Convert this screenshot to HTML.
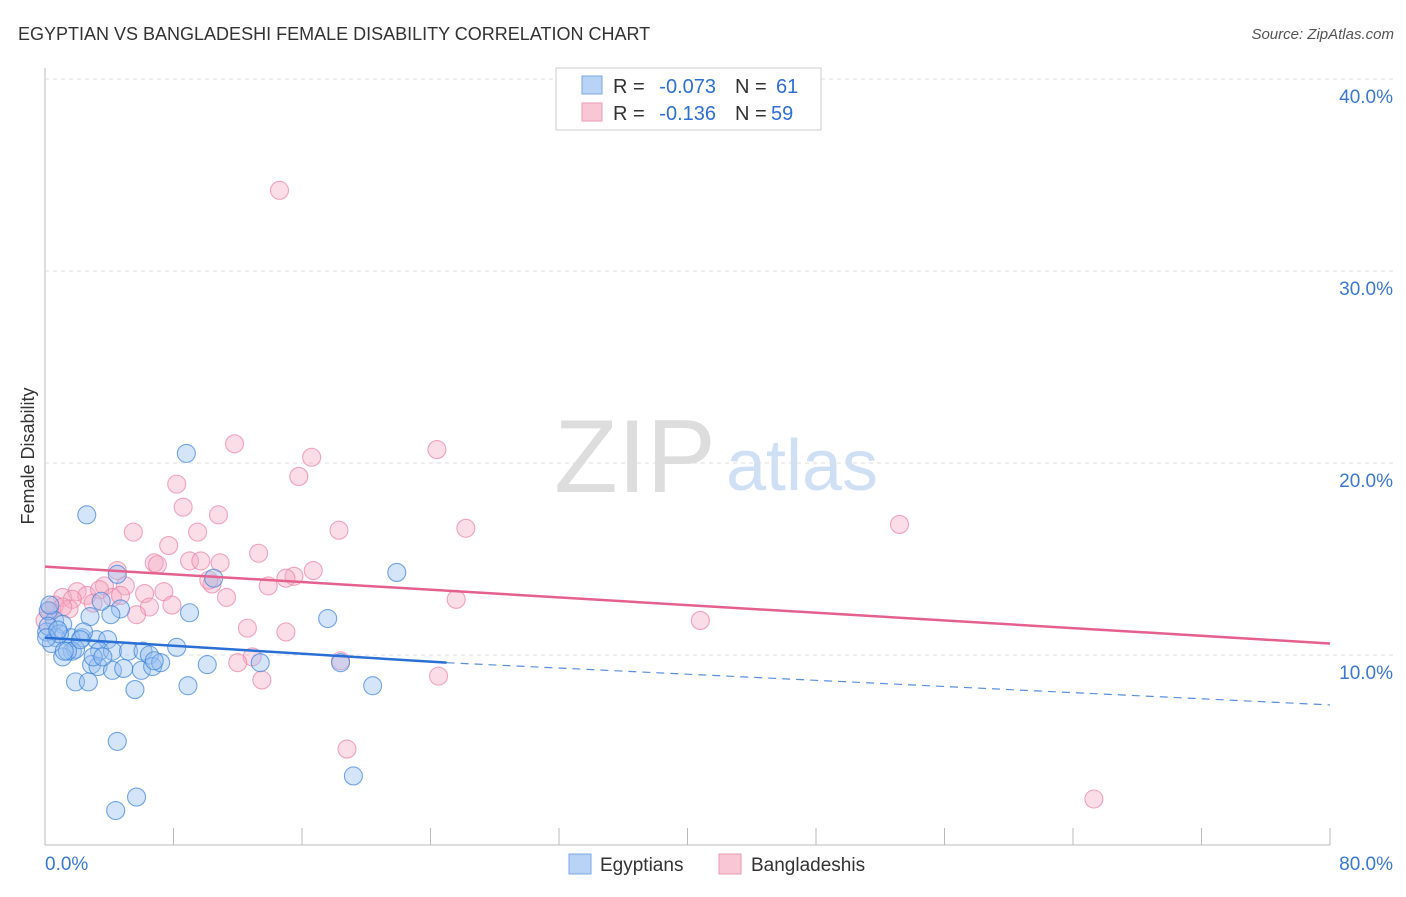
<!DOCTYPE html>
<html><head><meta charset="utf-8"><style>
body{margin:0;background:#fff;font-family:"Liberation Sans",sans-serif}
svg text{font-family:"Liberation Sans",sans-serif}
</style></head><body>
<svg id="c" width="1406" height="892">
<text x="18" y="40" font-size="18" fill="#333">EGYPTIAN VS BANGLADESHI FEMALE DISABILITY CORRELATION CHART</text>
<text x="1394" y="39" font-size="15" fill="#555" font-style="italic" text-anchor="end">Source: ZipAtlas.com</text>
<text x="34" y="456" font-size="18" fill="#333" text-anchor="middle" transform="rotate(-90 34 456)">Female Disability</text>
<g><text x="635" y="492" font-size="104" fill="#ddd" font-family="Liberation Serif" text-anchor="middle">ZIP</text><text x="802" y="490" font-size="72" fill="#cfe0f5" text-anchor="middle">atlas</text></g>
<g id="grid"></g><g id="pts"></g><g id="lines"></g>
<g>
<rect x="556" y="68" width="265" height="62" fill="#fff" stroke="#ccc"/>
<rect x="582" y="76" width="20" height="18" fill="#b8d3f5" stroke="#7aa9e6"/>
<rect x="582" y="103" width="20" height="18" fill="#f9c6d5" stroke="#eb9bb3"/>
<text x="613" y="93" font-size="20" fill="#333">R =</text>
<text x="716" y="93" font-size="20" fill="#2e6fd6" text-anchor="end">-0.073</text>
<text x="735" y="93" font-size="20" fill="#333">N =</text>
<text x="776" y="93" font-size="20" fill="#2e6fd6">61</text>
<text x="613" y="120" font-size="20" fill="#333">R =</text>
<text x="716" y="120" font-size="20" fill="#2e6fd6" text-anchor="end">-0.136</text>
<text x="735" y="120" font-size="20" fill="#333">N =</text>
<text x="771" y="120" font-size="20" fill="#2e6fd6">59</text>
</g>
<g>
<rect x="569" y="854" width="22" height="20" fill="#b8d3f5" stroke="#7aa9e6"/><text x="600" y="871" font-size="19" fill="#333">Egyptians</text>
<rect x="719" y="854" width="22" height="20" fill="#f9c6d5" stroke="#eb9bb3"/><text x="751" y="871" font-size="19" fill="#333">Bangladeshis</text>
</g>
</svg>
<script>
const xTicks=[0,8,16,24,32,40,48,56,64,72,80];
const yTicks=[10,20,30,40];
const blueX=[8.8,2.6,21.9,4.5,10.5,17.6,9.0,4.7,4.1,3.5,2.8,0.6,1.1,0.1,0.7,1.6,2.3,3.2,3.9,0.4,1.7,1.9,3.4,4.2,5.2,6.1,6.5,8.2,1.1,1.4,2.9,3.3,4.2,4.9,6.0,6.7,7.2,10.1,13.4,18.4,1.9,2.7,8.9,20.4,5.6,4.5,19.2,5.7,4.4,0.2,0.2,0.9,2.4,1.2,3.0,3.6,6.8,0.3,0.1,0.8,2.2];
const blueY=[20.5,17.3,14.3,14.2,14.0,11.9,12.2,12.4,12.1,12.8,12.0,11.8,11.6,11.2,10.9,10.9,10.9,10.8,10.8,10.6,10.2,10.3,10.2,10.2,10.2,10.2,10.0,10.4,9.9,10.2,9.5,9.4,9.2,9.3,9.2,9.4,9.6,9.5,9.6,9.6,8.6,8.6,8.4,8.4,8.2,5.5,3.7,2.6,1.9,12.3,11.5,11.1,11.2,10.2,9.9,9.9,9.7,12.6,10.9,11.3,10.8];
const pinkX=[14.6,11.8,24.4,16.6,15.8,8.2,8.6,10.8,18.3,26.2,53.2,5.5,9.5,7.7,13.3,6.8,7.0,9.0,9.7,10.9,16.7,15.5,15.0,4.5,5.0,3.7,10.4,10.2,13.9,6.2,7.4,1.1,2.0,2.6,3.4,4.2,4.7,1.7,0.6,1.5,3.0,7.9,6.5,11.3,25.6,5.7,12.6,15.0,40.8,18.4,12.9,12.0,13.5,24.5,18.8,65.3,1.1,0.3,0.0];
const pinkY=[34.2,21.0,20.7,20.3,19.3,18.9,17.7,17.3,16.5,16.6,16.8,16.4,16.4,15.7,15.3,14.8,14.7,14.9,14.9,14.8,14.4,14.1,14.0,14.4,13.6,13.6,13.7,13.9,13.6,13.2,13.3,13.0,13.3,13.1,13.4,13.0,13.1,12.9,12.6,12.4,12.7,12.6,12.5,13.0,12.9,12.1,11.4,11.2,11.8,9.7,9.9,9.6,8.7,8.9,5.1,2.5,12.5,12.3,11.8];
const blueTrend=[[0,10.9],[25,9.6]],blueDash=[[25,9.6],[80,7.4]];
const pinkTrend=[[0,14.6],[80,10.6]];
const X=v=>45+v*16.0625, Y=v=>847-v*19.2;
const NS="http://www.w3.org/2000/svg";
function mk(t,a,p){const e=document.createElementNS(NS,t);for(const k in a)e.setAttribute(k,a[k]);p.appendChild(e);return e;}
const grid=document.getElementById('grid');
const ax=mk('line',{x1:45,y1:68,x2:45,y2:845,stroke:'#bbb'},grid);


const bx=mk('line',{x1:45,y1:845,x2:1330,y2:845,stroke:'#bbb'},grid);


yTicks.forEach(t=>{
 const g=mk('line',{x1:45,y1:Y(t),x2:1394,y2:Y(t),stroke:'#ddd','stroke-dasharray':'4 4'},grid);
 
 
 const l=mk('text',{x:1393,y:Y(t)+24,'font-size':19,fill:'#3a78d6','text-anchor':'end'},grid);l.textContent=t.toFixed(1)+'%';
 
 
});
xTicks.forEach(t=>{
 const k=mk('line',{x1:X(t),y1:828,x2:X(t),y2:845,stroke:'#bbb'},grid);
 
 
});
[[0,'start',45],[80,'end',1393]].forEach(([t,a,x])=>{const l=mk('text',{x:x,y:870,'font-size':19,fill:'#3a78d6','text-anchor':a},grid);l.textContent=t.toFixed(1)+'%';
 
 });
const pts=document.getElementById('pts');
pinkX.forEach((x,i)=>{const c=mk('circle',{cx:X(x),cy:Y(pinkY[i]),r:9,fill:'rgba(246,170,195,0.4)',stroke:'rgba(235,130,165,0.7)','stroke-width':1.1},pts);
 
 });
blueX.forEach((x,i)=>{const c=mk('circle',{cx:X(x),cy:Y(blueY[i]),r:9,fill:'rgba(150,190,240,0.4)',stroke:'rgba(60,130,220,0.7)','stroke-width':1.1},pts);
 
 });
const lines=document.getElementById('lines');
const l1=mk('line',{x1:X(blueTrend[0][0]),y1:Y(blueTrend[0][1]),x2:X(blueTrend[1][0]),y2:Y(blueTrend[1][1]),stroke:'#2a6fd6','stroke-width':2.5},lines);


const l2=mk('line',{x1:X(blueDash[0][0]),y1:Y(blueDash[0][1]),x2:X(blueDash[1][0]),y2:Y(blueDash[1][1]),stroke:'#5a8fdc','stroke-width':1.2,'stroke-dasharray':'8 6'},lines);


const l3=mk('line',{x1:X(pinkTrend[0][0]),y1:Y(pinkTrend[0][1]),x2:X(pinkTrend[1][0]),y2:Y(pinkTrend[1][1]),stroke:'#e5608e','stroke-width':2.5},lines);


</script>
</body></html>
